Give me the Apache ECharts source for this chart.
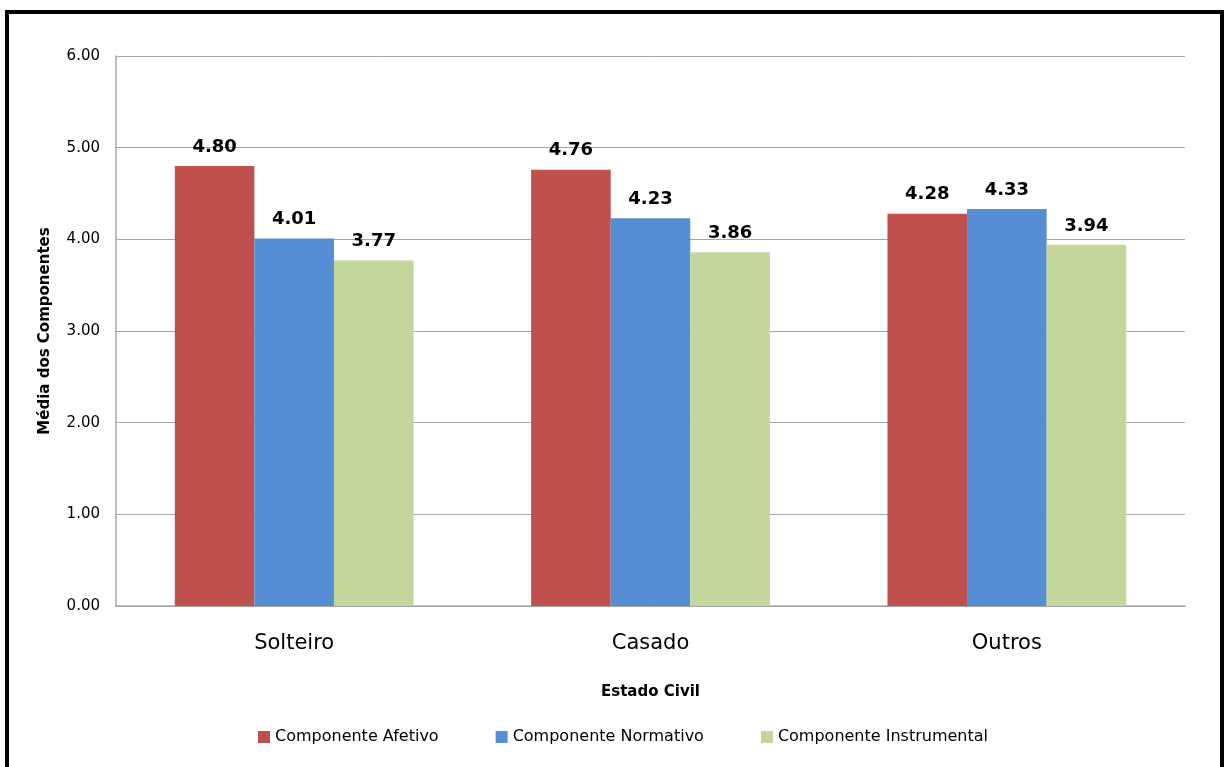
<!DOCTYPE html>
<html><head><meta charset="utf-8">
<script src="https://cdn.jsdelivr.net/npm/echarts@6/dist/echarts.min.js"></script>
<style>
html,body{margin:0;padding:0;background:#fff;overflow:hidden}
#frame{position:absolute;left:5px;top:10px;width:1219px;height:800px;border:4px solid #000;box-sizing:border-box;}
#c{position:absolute;left:0;top:0;width:1224px;height:767px}
</style></head><body>
<div id="c"></div>
<div id="frame"></div>
<script>
const categories = ['Solteiro', 'Casado', 'Outros'];
const afetivo = [4.80, 4.76, 4.28];
const normativo = [4.01, 4.23, 4.33];
const instrumental = [3.77, 3.86, 3.94];
const seriesNames = ['Componente Afetivo', 'Componente Normativo', 'Componente Instrumental'];
const colors = ['#C0504D', '#558ED5', '#C3D69B'];

const chart = echarts.init(document.getElementById('c'));
const lbl = {show:true, position:'top', distance:10, fontFamily:'DejaVu Sans', fontWeight:'bold', fontSize:18, color:'#000', formatter:p=>p.value.toFixed(2)};
chart.setOption({
  animation:false,
  color: colors,
  grid:{left:116, right:39, top:56, bottom:161},
  legend:{bottom:17, left:253, itemWidth:12, itemHeight:12, itemGap:57, icon:'rect',
    textStyle:{fontFamily:'DejaVu Sans', fontSize:16, color:'#000'}, data: seriesNames},
  xAxis:{type:'category', data:categories,
    axisLine:{lineStyle:{color:'#A6A6A6', width:1.5}}, axisTick:{show:false},
    axisLabel:{fontFamily:'DejaVu Sans', fontSize:21, color:'#000', margin:27},
    name:'Estado Civil', nameLocation:'middle', nameGap:79,
    nameTextStyle:{fontFamily:'DejaVu Sans', fontWeight:'bold', fontSize:15, color:'#000'}},
  yAxis:{type:'value', min:0, max:6, interval:1,
    axisLine:{show:true, lineStyle:{color:'#A6A6A6', width:1.5}}, axisTick:{show:false},
    splitLine:{lineStyle:{color:'#A6A6A6', width:1}},
    axisLabel:{fontFamily:'DejaVu Sans', fontSize:15, color:'#000', margin:16, formatter:v=>v.toFixed(2)},
    name:'Média dos Componentes', nameLocation:'middle', nameGap:63,
    nameTextStyle:{fontFamily:'DejaVu Sans', fontWeight:'bold', fontSize:15, color:'#000'}},
  series:[
    {name:seriesNames[0], type:'bar', data:afetivo, barGap:'0%', barCategoryGap:'33%', label:lbl},
    {name:seriesNames[1], type:'bar', data:normativo, barGap:'0%', barCategoryGap:'33%', label:lbl},
    {name:seriesNames[2], type:'bar', data:instrumental, barGap:'0%', barCategoryGap:'33%', label:lbl}
  ]
});
</script></body></html>
